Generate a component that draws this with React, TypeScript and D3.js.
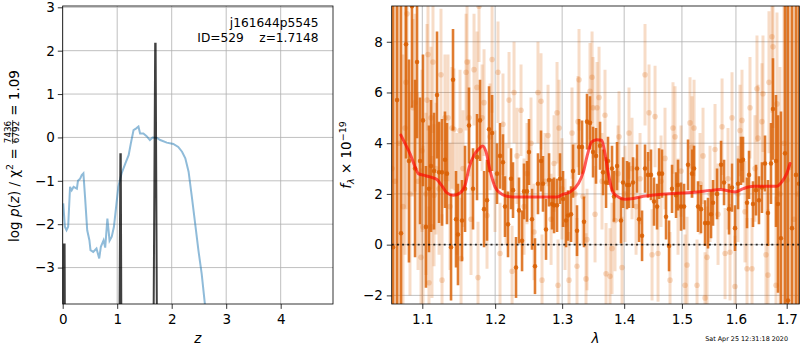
import React, { useEffect, useRef } from 'react';
import * as d3 from 'd3';

// ---- left panel: log p(z) ----
const pzZ = [0.01, 0.04, 0.07, 0.1, 0.135, 0.165, 0.2, 0.26, 0.28, 0.32, 0.35, 0.38, 0.41, 0.45, 0.49, 0.51, 0.56, 0.62, 0.67, 0.7, 0.75, 0.78, 0.82, 0.86, 0.9, 0.94, 0.98, 1.02, 1.08, 1.15, 1.21, 1.25, 1.3, 1.35, 1.39, 1.42, 1.48, 1.54, 1.6, 1.65, 1.73, 1.79, 1.91, 2.03, 2.12, 2.19, 2.25, 2.31, 2.37, 2.43, 2.49, 2.55, 2.61, 2.7];
const pzLog = [-1.52, -2.06, -2.14, -2.06, -1.14, -1.22, -1.14, -1.18, -1.0, -0.95, -0.87, -0.83, -1.37, -2.14, -2.37, -2.6, -2.64, -2.56, -2.79, -2.52, -2.37, -2.54, -1.87, -2.38, -2.29, -2.06, -1.6, -1.14, -0.83, -0.6, -0.41, -0.14, 0.17, 0.21, 0.25, 0.09, 0.09, 0.03, -0.06, 0, -0.01, -0.06, -0.12, -0.15, -0.22, -0.33, -0.48, -0.79, -1.37, -1.98, -2.6, -3.14, -3.85, -4.6];

// chi2 peaks (narrow spikes)
const peak1Z = [0.01, 0.02, 0.035, 0.045];
const peak1Log = [-6, -2.47, -2.47, -6];
const peak2Z = [1.035, 1.058, 1.066, 1.08];
const peak2Log = [-6, -0.39, -0.39, -6];
const peak3Z = [1.66, 1.697, 1.705, 1.735];
const peak3Log = [-6, 2.16, 2.16, -6];

const zTicks = [0, 1, 2, 3, 4];
const logTicks = [-3, -2, -1, 0, 1, 2, 3];

// ---- right panel: spectrum ----
const darkWave = [
  1.0622, 1.0673, 1.0724, 1.0788, 1.0826, 1.0865, 1.0905, 1.0931, 1.0970, 1.1009,
  1.1048, 1.1088, 1.1115, 1.1155, 1.1195, 1.1222, 1.1262, 1.1302, 1.1329, 1.1384,
  1.1411, 1.1452, 1.1479, 1.1534, 1.1576, 1.1631, 1.1687, 1.1743, 1.1785, 1.1842,
  1.1884, 1.1913, 1.1956, 1.2027, 1.2070, 1.2113, 1.2142, 1.2186, 1.2230, 1.2259,
  1.2303, 1.2347, 1.2392, 1.2421, 1.2466, 1.2495, 1.2540, 1.2585, 1.2630, 1.2676,
  1.2706, 1.2752, 1.2798, 1.2844, 1.2875, 1.2921, 1.2967, 1.3014, 1.3061, 1.3092,
  1.3139, 1.3170, 1.3233, 1.3265, 1.3313, 1.3344, 1.3392, 1.3440, 1.3489, 1.3537,
  1.3602, 1.3651, 1.3700, 1.3732, 1.3798, 1.3831, 1.3881, 1.3947, 1.3981, 1.4048,
  1.4081, 1.4149, 1.4217, 1.4251, 1.4302, 1.4353, 1.4405, 1.4456, 1.4508, 1.4561,
  1.4596, 1.4648, 1.4718, 1.4771, 1.4824, 1.4895, 1.4930, 1.4984, 1.5038, 1.5110,
  1.5182, 1.5219, 1.5291, 1.5346, 1.5420, 1.5475, 1.5531, 1.5568, 1.5643, 1.5718,
  1.5774, 1.5868, 1.5925, 1.5982, 1.6040, 1.6097, 1.6136, 1.6213, 1.6252, 1.6329,
  1.6388, 1.6446, 1.6505, 1.6565, 1.6624, 1.6684, 1.6724, 1.6784, 1.6824, 1.6884,
  1.6965, 1.7026, 1.7108, 1.7190, 1.7252,
];
const darkFlux = [
  -0.1, 5.7, 0.45, 7.9, 3.3, 9.4, 3.0, 7.2, 3.3, 4.9,
  0.7, 2.2, 3.1, 2.9, 5.9, 2.85, 2.85, 3.35, 2.8, -0.1,
  6.5, 1.0, 0.4, 0.95, 2.2, 4.7, 2.2, 3.45, 4.9, 1.4,
  1.75, 4.55, 4.4, 2.8, 3.5, 3.25, 1.5, 0.8, 2.6, 2.15,
  -0.9, 1.35, 0.15, 2.1, 2.1, 3.65, 1.0, -0.85, 2.4, 3.3,
  2.4, 0.6, 2.55, 1.6, 1.55, 1.55, 2.6, 1.8, 0.95, 1.15,
  1.2, 2.9, 0.55, 3.85, 3.85, 0.9, 4.85, 4.8, 3.65, 3.5,
  3.9, 2.85, 2.45, 3.3, 3.0, 1.9, 3.1, 0.95, 2.45, 2.35,
  2.35, 2.45, 3.0, 1.0, 0.35, 3.0, 2.75, 2.75, 1.7, 1.5,
  2.8, 2.8, 1.1, -0.05, 2.2, 1.95, 2.35, 1.5, 1.5, 3.15,
  2.8, 3.0, 1.5, 1.4, 0.85, 0.85, 1.2, 1.65, 2.0, 3.15,
  2.45, 1.4, 2.25, 0.65, 2.4, 3.3, 3.35, 1.65, 2.75, 1.6,
  2.15, 1.75, 2.25, 3.2, 1.25, 3.2, 5.35, 3.3, 1.6, 0.25,
  3.6, -2.2, 0.65, 2.75, 2.4,
];
const darkErr = [
  14, 14, 14, 4.5, 4, 4, 3.5, 3, 2.5, 2.6,
  2.4, 2.5, 2.6, 2.3, 2.5, 2.0, 2.1, 1.9, 2.0, 2.1,
  2.0, 1.9, 2.0, 1.6, 1.7, 1.5, 1.6, 1.7, 1.6, 1.5,
  1.6, 1.7, 1.5, 1.2, 1.3, 1.1, 1.2, 1.3, 1.2, 1.1,
  1.2, 1.3, 1.2, 1.1, 1.2, 1.3, 1.2, 1.1, 1.2, 1.2,
  1.1, 1.2, 1.05, 1.0, 1.1, 1.05, 1.0, 1.1, 1.05, 1.0,
  1.1, 1.05, 1.0, 1.1, 1.05, 1.0, 1.1, 1.05, 1.0, 1.1,
  0.95, 0.9, 1.0, 0.95, 0.9, 1.0, 0.95, 0.9, 1.0, 0.95,
  0.9, 1.0, 0.95, 0.9, 1.0, 0.95, 0.9, 1.0, 0.95, 0.9,
  1.0, 0.95, 0.9, 1.0, 0.95, 0.9, 1.0, 0.95, 0.9, 1.0,
  0.95, 0.9, 1.0, 0.95, 0.9, 1.0, 0.95, 0.9, 1.0, 0.95,
  0.9, 1.0, 0.95, 0.9, 1.0, 0.95, 0.9, 1.0, 0.95, 0.9,
  1.0, 0.95, 1.0, 1.1, 1.3, 1.6, 2.0, 2.6, 3.5, 5,
  8, 14, 14, 14, 14,
];

const lightWave = [
  1.0609, 1.0647, 1.0698, 1.0749, 1.0775, 1.0788, 1.0801, 1.0839, 1.0878, 1.0905,
  1.0944, 1.0983, 1.0996, 1.1009, 1.1048, 1.1062, 1.1075, 1.1088, 1.1115, 1.1128,
  1.1141, 1.1155, 1.1181, 1.1222, 1.1248, 1.1262, 1.1302, 1.1343, 1.1370, 1.1397,
  1.1424, 1.1466, 1.1507, 1.1521, 1.1548, 1.1590, 1.1604, 1.1631, 1.1659, 1.1701,
  1.1743, 1.1757, 1.1771, 1.1814, 1.1842, 1.1884, 1.1927, 1.1956, 1.1998, 1.2041,
  1.2070, 1.2113, 1.2157, 1.2201, 1.2245, 1.2274, 1.2318, 1.2377, 1.2421, 1.2466,
  1.2525, 1.2570, 1.2630, 1.2676, 1.2691, 1.2737, 1.2783, 1.2829, 1.2875, 1.2921,
  1.2936, 1.2952, 1.2998, 1.3045, 1.3107, 1.3154, 1.3202, 1.3233, 1.3249, 1.3265,
  1.3328, 1.3376, 1.3392, 1.3440, 1.3473, 1.3489, 1.3521, 1.3553, 1.3586, 1.3634,
  1.3683, 1.3700, 1.3765, 1.3798, 1.3848, 1.3898, 1.3914, 1.3964, 1.4014, 1.4081,
  1.4132, 1.4200, 1.4268, 1.4353, 1.4422, 1.4474, 1.4526, 1.4578, 1.4630, 1.4700,
  1.4788, 1.4841, 1.4877, 1.4930, 1.4984, 1.5056, 1.5092, 1.5146, 1.5182, 1.5219,
  1.5273, 1.5328, 1.5383, 1.5420, 1.5457, 1.5512, 1.5605, 1.5661, 1.5737, 1.5793,
  1.5849, 1.5887, 1.5925, 1.5982, 1.6040, 1.6078, 1.6116, 1.6174, 1.6213, 1.6271,
  1.6310, 1.6368, 1.6407, 1.6427, 1.6505, 1.6525, 1.6585, 1.6624, 1.6644, 1.6704,
  1.6724, 1.6784, 1.6804, 1.6864, 1.6945, 1.7006, 1.7067, 1.7149, 1.7231,
];
const lightFlux = [
  3.0, 2.5, 4.0, 1.5, 4.6, 6.4, 9.1, 2.0, 5.4, 5.6,
  2.5, -0.5, 3.7, 0.7, 2.0, 5.7, 7.5, -1.5, 5.0, 0.7,
  7.2, 1.95, 3.0, 2.2, 6.7, -1.4, 5.0, 5.0, 1.5, 4.6,
  4.55, 2.0, 4.5, -0.55, 3.0, 6.8, 7.2, 5.0, 1.0, 6.9,
  6.2, -1.3, 9.4, 5.0, 5.6, 1.15, 4.25, 7.3, 2.5, 6.8,
  -0.35, 4.75, 2.0, 5.7, -1.05, 6.0, 3.5, 5.3, 1.5, 2.8,
  4.0, 0.5, 6.0, 5.65, -1.4, 2.5, 4.3, 1.0, 3.2, 5.2,
  -1.6, 4.6, 2.2, 0.8, -1.4, 4.4, 2.0, -0.85, 4.85, 6.5,
  1.9, -1.35, 0.2, 6.05, 6.6, 5.4, 1.2, 5.4, 5.8, 2.5,
  5.1, -1.15, -1.25, -0.15, 0.95, 2.8, 4.25, -0.9, 2.0, 4.4,
  3.0, 1.5, 2.6, 6.7, 5.2, -0.4, 5.05, -0.35, 2.5, 3.4,
  -1.4, 4.6, 4.25, 1.5, 2.9, -1.6, -0.8, 4.8, 3.85, 4.6,
  -1.6, 2.4, 3.5, -2.1, -0.5, 2.0, 3.75, 1.2, 4.65, -0.35,
  2.6, -0.3, 5.0, -1.65, 2.0, 4.5, 4.9, 1.3, -0.95, 5.4,
  -0.95, 3.0, 6.15, 4.2, 4.85, 5.95, -0.4, -1.2, 6.4, 8.2,
  7.8, -1.6, 5.55, 2.0, 4.0, 2.55, 3.05, 1.0, 2.0,
];
const lightErr = [
  12, 10, 8, 6, 5, 5, 5, 4, 3.5, 3.5,
  3.5, 3.5, 3.2, 3.2, 3.2, 3.0, 3.0, 3.0, 2.8, 2.8,
  2.8, 2.8, 2.6, 2.6, 2.6, 2.6, 2.5, 2.5, 2.5, 2.4,
  2.4, 2.4, 2.4, 2.4, 2.3, 2.3, 2.3, 2.3, 2.2, 2.2,
  2.2, 2.2, 2.2, 2.1, 2.1, 2.1, 2.1, 2.1, 2.0, 2.0,
  2.0, 2.0, 2.0, 1.9, 1.8, 2.0, 1.9, 1.8, 1.9, 2.0,
  1.8, 1.9, 2.0, 1.9, 1.8, 1.9, 2.0, 1.8, 1.9, 2.0,
  1.8, 1.9, 2.0, 1.8, 1.9, 1.8, 2.0, 1.9, 1.8, 2.0,
  1.9, 1.8, 2.0, 1.9, 1.8, 2.0, 1.9, 1.8, 2.0, 1.9,
  1.8, 2.0, 1.9, 1.8, 2.0, 1.9, 1.8, 2.0, 1.9, 1.8,
  2.0, 1.9, 1.8, 2.0, 1.9, 1.8, 2.0, 1.9, 1.8, 2.0,
  1.9, 1.8, 2.0, 1.9, 1.8, 2.0, 1.9, 1.8, 2.0, 1.9,
  1.8, 2.0, 1.9, 1.8, 2.0, 1.9, 1.8, 2.0, 1.9, 1.8,
  2.0, 1.9, 1.8, 2.0, 1.9, 1.8, 2.0, 2.0, 2.0, 2.0,
  2.0, 2.1, 2.1, 2.1, 2.3, 2.3, 2.5, 2.6, 2.8, 3.0,
  3.2, 3.5, 3.6, 5, 7, 9, 12, 14, 14,
];

// best-fit template
const modelWave = [1.0722, 1.0775, 1.0839, 1.0905, 1.0948, 1.1013, 1.1102, 1.1190, 1.1257, 1.1324, 1.1413, 1.1507, 1.1576, 1.1635, 1.1701, 1.1775, 1.1823, 1.1870, 1.1927, 1.1998, 1.2070, 1.2166, 1.2313, 1.2510, 1.2717, 1.2921, 1.3019, 1.3123, 1.3255, 1.3334, 1.3397, 1.3467, 1.3549, 1.3629, 1.3683, 1.3738, 1.3810, 1.3903, 1.4014, 1.4154, 1.4324, 1.4553, 1.4788, 1.5026, 1.5268, 1.5512, 1.5699, 1.5887, 1.5982, 1.6142, 1.6335, 1.6531, 1.6798, 1.6898, 1.7000, 1.7067];
const modelFlux = [4.32, 3.99, 3.59, 3.07, 2.8, 2.74, 2.67, 2.58, 2.34, 2.05, 1.95, 2.04, 2.34, 3.07, 3.53, 3.79, 3.89, 3.66, 2.93, 2.28, 2.04, 1.91, 1.88, 1.88, 1.88, 1.88, 1.99, 2.08, 2.41, 2.87, 3.53, 4.05, 4.14, 4.12, 3.59, 2.8, 2.08, 1.88, 1.79, 1.82, 1.91, 1.97, 2.01, 2.04, 2.08, 2.14, 2.17, 2.11, 2.08, 2.21, 2.30, 2.30, 2.30, 2.47, 2.8, 3.2];

const waveTicks = [1.1, 1.2, 1.3, 1.4, 1.5, 1.6, 1.7];
const fluxTicks = [-2, 0, 2, 4, 6, 8];

const FONT = 'DejaVu Sans';
const ORANGE = '#d95f02';

const App = () => {
  const svgRef = useRef<SVGSVGElement>(null);

  useEffect(() => {
    const svg = d3.select(svgRef.current);
    svg.selectAll('*').remove();
    svg.attr('font-family', FONT);

    const L = { x0: 62.7, x1: 333, y0: 6, y1: 304 };
    const R = { x0: 391.7, x1: 799.3, y0: 6, y1: 304 };

    const defs = svg.append('defs');
    defs.append('clipPath').attr('id', 'clipL').append('rect')
      .attr('x', L.x0).attr('y', L.y0).attr('width', L.x1 - L.x0).attr('height', L.y1 - L.y0);
    defs.append('clipPath').attr('id', 'clipR').append('rect')
      .attr('x', R.x0).attr('y', R.y0).attr('width', R.x1 - R.x0).attr('height', R.y1 - R.y0);

    // Scales
    const xz = d3.scaleLinear().domain([0, 4.96]).range([L.x0, L.x1]);
    const yp = d3.scaleLinear().domain([-3.84, 3.03]).range([L.y1, L.y0]);
    const xw = d3.scaleLog().domain([1.0605, 1.7258]).range([R.x0, R.x1]);
    const yf = d3.scaleLinear().domain([-2.34, 9.41]).range([R.y1, R.y0]);

    const styleAxis = (g) => {
      g.attr('font-size', 13.5).attr('font-family', FONT);
      g.select('.domain').remove();
      g.selectAll('line').attr('stroke', '#000').attr('stroke-width', 0.8);
      g.selectAll('text').attr('fill', '#000');
    };

    // ---------- left panel ----------
    const gl = svg.append('g');
    // grid
    gl.selectAll('.vg').data(zTicks).enter().append('line')
      .attr('x1', (d) => xz(d)).attr('x2', (d) => xz(d))
      .attr('y1', L.y0).attr('y2', L.y1)
      .attr('stroke', '#b0b0b0').attr('stroke-width', 0.8);
    gl.selectAll('.hg').data(logTicks).enter().append('line')
      .attr('x1', L.x0).attr('x2', L.x1)
      .attr('y1', (d) => yp(d)).attr('y2', (d) => yp(d))
      .attr('stroke', '#b0b0b0').attr('stroke-width', 0.8);

    const lc = gl.append('g').attr('clip-path', 'url(#clipL)');
    const pzLine = d3.line<number>().x((d) => xz(pzZ[d])).y((d) => yp(pzLog[d]));
    lc.append('path')
      .attr('d', pzLine(d3.range(pzZ.length)))
      .attr('fill', 'none').attr('stroke', '#1f77b4').attr('stroke-opacity', 0.5).attr('stroke-width', 2);

    [[peak1Z, peak1Log], [peak2Z, peak2Log], [peak3Z, peak3Log]].forEach(([zs, ls]) => {
      const ln = d3.line<number>().x((d) => xz(zs[d])).y((d) => yp(ls[d]));
      lc.append('path')
        .attr('d', ln(d3.range(zs.length)))
        .attr('fill', 'none').attr('stroke', '#000').attr('stroke-opacity', 0.75)
        .attr('stroke-width', 2).attr('stroke-linejoin', 'miter');
    });

    gl.append('rect').attr('x', L.x0).attr('y', L.y0)
      .attr('width', L.x1 - L.x0).attr('height', L.y1 - L.y0)
      .attr('fill', 'none').attr('stroke', '#000').attr('stroke-width', 0.8);

    gl.append('g').attr('transform', `translate(0,${L.y1})`)
      .call(d3.axisBottom(xz).tickValues(zTicks).tickFormat(d3.format('d')).tickSize(4.9).tickPadding(5.5))
      .call(styleAxis);
    gl.append('g').attr('transform', `translate(${L.x0},0)`)
      .call(d3.axisLeft(yp).tickValues(logTicks).tickFormat(d3.format('d')).tickSize(4.9).tickPadding(3))
      .call(styleAxis);

    // annotation
    gl.append('text').attr('x', 318.5).attr('y', 27).attr('text-anchor', 'end')
      .attr('font-size', 12.2).text('j161644p5545');
    gl.append('text').attr('x', 318.5).attr('y', 41.5).attr('text-anchor', 'end')
      .attr('font-size', 12.2).style('white-space', 'pre').text('ID=529    z=1.7148');

    // x label
    gl.append('text').attr('x', (L.x0 + L.x1) / 2).attr('y', 343).attr('text-anchor', 'middle')
      .attr('font-size', 13.5).attr('font-style', 'italic').text('z');

    // y label with fraction
    const yl = gl.append('g').attr('transform', `translate(18.5,${(L.y0 + L.y1) / 2 + 1}) rotate(-90)`);
    const t1 = yl.append('text').attr('font-size', 13.5);
    t1.append('tspan').text('log ');
    t1.append('tspan').attr('font-style', 'italic').text('p');
    t1.append('tspan').text('(');
    t1.append('tspan').attr('font-style', 'italic').text('z');
    t1.append('tspan').text(') / \u03c7');
    t1.append('tspan').attr('font-size', 9.5).attr('dy', -5.5).text('2');
    t1.append('tspan').attr('dy', 5.5).style('white-space', 'pre').text(' = ');
    const num = yl.append('text').attr('font-size', 8.8).attr('y', -7.3).text('7436');
    const den = yl.append('text').attr('font-size', 8.8).attr('y', 0.8).text('6792');
    const t3 = yl.append('text').attr('font-size', 13.5).style('white-space', 'pre').text(' = 1.09');
    const w1 = (t1.node() as SVGTextElement).getComputedTextLength();
    const wn = Math.max((num.node() as SVGTextElement).getComputedTextLength(),
      (den.node() as SVGTextElement).getComputedTextLength()) + 1.5;
    const w3 = (t3.node() as SVGTextElement).getComputedTextLength();
    const start = -(w1 + wn + w3) / 2;
    t1.attr('x', start);
    num.attr('x', start + w1 + wn / 2).attr('text-anchor', 'middle');
    den.attr('x', start + w1 + wn / 2).attr('text-anchor', 'middle');
    yl.append('line').attr('x1', start + w1).attr('x2', start + w1 + wn)
      .attr('y1', -5.8).attr('y2', -5.8).attr('stroke', '#000').attr('stroke-width', 0.7);
    t3.attr('x', start + w1 + wn);

    // ---------- right panel ----------
    const gr = svg.append('g');
    gr.selectAll('.vg').data(waveTicks).enter().append('line')
      .attr('x1', (d) => xw(d)).attr('x2', (d) => xw(d))
      .attr('y1', R.y0).attr('y2', R.y1)
      .attr('stroke', '#b0b0b0').attr('stroke-width', 0.8);
    gr.selectAll('.hg').data(fluxTicks).enter().append('line')
      .attr('x1', R.x0).attr('x2', R.x1)
      .attr('y1', (d) => yf(d)).attr('y2', (d) => yf(d))
      .attr('stroke', '#b0b0b0').attr('stroke-width', 0.8);

    const rc = gr.append('g').attr('clip-path', 'url(#clipR)');
    const lightIdx = d3.range(Math.min(lightWave.length, lightFlux.length, lightErr.length));
    const darkIdx = d3.range(Math.min(darkWave.length, darkFlux.length, darkErr.length));

    // light spectrum (other orient)
    rc.append('g').selectAll('line').data(lightIdx).enter().append('line')
      .attr('x1', (i) => xw(lightWave[i])).attr('x2', (i) => xw(lightWave[i]))
      .attr('y1', (i) => yf(lightFlux[i] - lightErr[i])).attr('y2', (i) => yf(lightFlux[i] + lightErr[i]))
      .attr('stroke', ORANGE).attr('stroke-opacity', 0.22).attr('stroke-width', 3);
    rc.append('g').selectAll('circle').data(lightIdx).enter().append('circle')
      .attr('cx', (i) => xw(lightWave[i])).attr('cy', (i) => yf(lightFlux[i]))
      .attr('r', 2.8).attr('fill', ORANGE).attr('fill-opacity', 0.22);

    // dark spectrum
    rc.append('g').selectAll('line').data(darkIdx).enter().append('line')
      .attr('x1', (i) => xw(darkWave[i])).attr('x2', (i) => xw(darkWave[i]))
      .attr('y1', (i) => yf(darkFlux[i] - darkErr[i])).attr('y2', (i) => yf(darkFlux[i] + darkErr[i]))
      .attr('stroke', ORANGE).attr('stroke-opacity', 0.82).attr('stroke-width', 2.6);
    rc.append('g').selectAll('circle').data(darkIdx).enter().append('circle')
      .attr('cx', (i) => xw(darkWave[i])).attr('cy', (i) => yf(darkFlux[i]))
      .attr('r', 2.3).attr('fill', ORANGE).attr('fill-opacity', 0.85);

    // zero line
    rc.append('line').attr('x1', R.x0).attr('x2', R.x1)
      .attr('y1', yf(0)).attr('y2', yf(0))
      .attr('stroke', '#000').attr('stroke-width', 1.8).attr('stroke-dasharray', '2,3.2').attr('stroke-opacity', 0.8);

    // model
    const mLine = d3.line<number>().x((i) => xw(modelWave[i])).y((i) => yf(modelFlux[i])).curve(d3.curveMonotoneX);
    rc.append('path').attr('d', mLine(d3.range(modelWave.length)))
      .attr('fill', 'none').attr('stroke', '#ff0000').attr('stroke-opacity', 0.65)
      .attr('stroke-width', 3).attr('stroke-linecap', 'round');

    gr.append('rect').attr('x', R.x0).attr('y', R.y0)
      .attr('width', R.x1 - R.x0).attr('height', R.y1 - R.y0)
      .attr('fill', 'none').attr('stroke', '#000').attr('stroke-width', 0.8);

    gr.append('g').attr('transform', `translate(0,${R.y1})`)
      .call(d3.axisBottom(xw).tickValues(waveTicks).tickFormat(d3.format('.1f')).tickSize(4.9).tickPadding(5.5))
      .call(styleAxis);
    gr.append('g').attr('transform', `translate(${R.x0},0)`)
      .call(d3.axisLeft(yf).tickValues(fluxTicks).tickFormat(d3.format('d')).tickSize(4.9).tickPadding(4))
      .call(styleAxis);

    gr.append('text').attr('x', (R.x0 + R.x1) / 2).attr('y', 343).attr('text-anchor', 'middle')
      .attr('font-size', 13.5).attr('font-style', 'italic').text('\u03bb');

    const yr = gr.append('text').attr('font-size', 13.5).attr('text-anchor', 'middle')
      .attr('transform', `translate(351,${(R.y0 + R.y1) / 2}) rotate(-90)`);
    yr.append('tspan').attr('font-style', 'italic').text('f');
    yr.append('tspan').attr('font-size', 9.5).attr('dy', 3).attr('font-style', 'italic').text('\u03bb');
    yr.append('tspan').attr('dy', -3).style('white-space', 'pre').text(' \u00d7 10');
    yr.append('tspan').attr('font-size', 9.5).attr('dy', -5.5).text('\u221219');

    // timestamp
    svg.append('text').attr('x', 788).attr('y', 341).attr('text-anchor', 'end')
      .attr('font-size', 6.4).text('Sat Apr 25 12:31:18 2020');
  }, []);

  return (
    <svg
      ref={svgRef}
      width={800}
      height={350}
      style={{ position: 'absolute', left: 0, top: 0, background: '#fff' }}
    />
  );
};

export default App;
